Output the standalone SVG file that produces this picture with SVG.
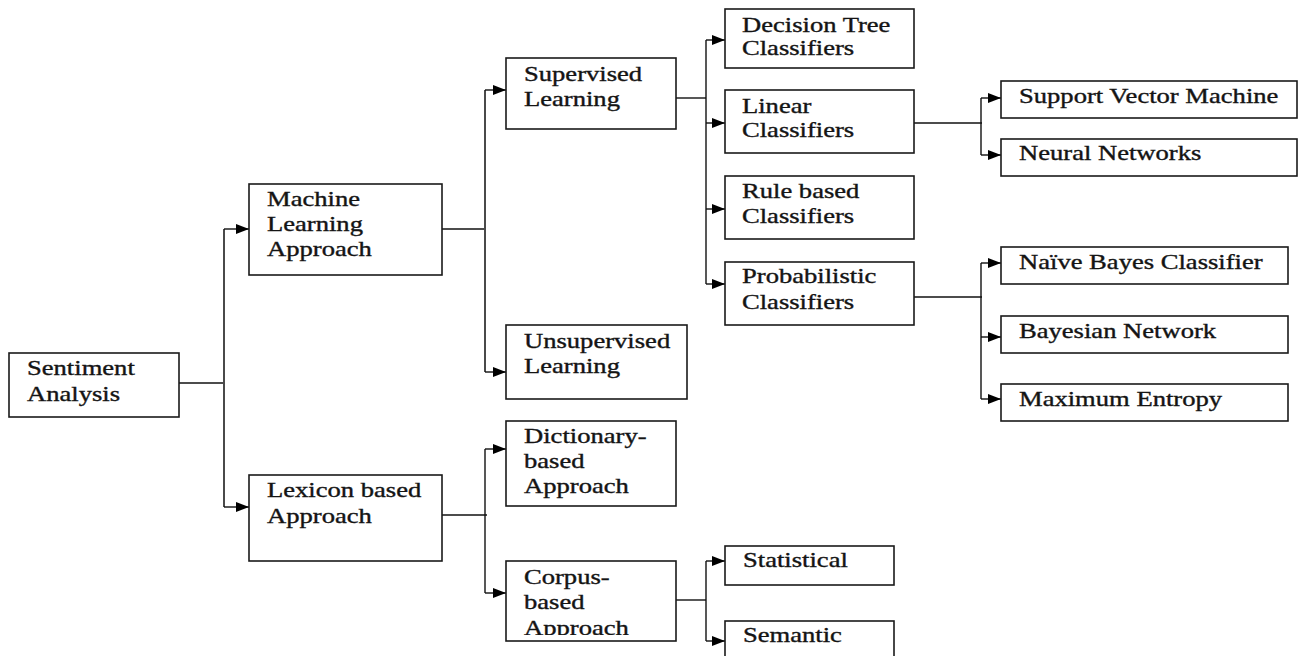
<svg xmlns="http://www.w3.org/2000/svg" width="1301" height="656" viewBox="0 0 1301 656">
<style>
.box{fill:#fff;stroke:#1a1a1a;stroke-width:1.6}
.t{font-family:"Liberation Serif","Times New Roman",serif;font-size:20px;fill:#141414;stroke:#141414;stroke-width:0.35}
.ln{fill:none;stroke:#111;stroke-width:1.4}
.lg{fill:none;stroke:#4a4a4a;stroke-width:2}
.ar{fill:none;stroke:#111;stroke-width:1.4;marker-end:url(#ah)}
</style>
<defs>
<marker id="ah" markerUnits="userSpaceOnUse" markerWidth="14" markerHeight="12" refX="13" refY="6" orient="auto">
<path d="M0,1 L13,6 L0,11 Z" fill="#000"/>
</marker>
<clipPath id="cc"><rect x="506" y="561" width="170" height="74"/></clipPath>
</defs>
<rect width="1301" height="656" fill="#fff"/>
<g id="connectors">
<path class="ln" d="M179,383 H224"/>
<path class="lg" d="M224,229 V507"/>
<path class="ar" d="M224,229 H249"/>
<path class="ar" d="M224,507 H249"/>
<path class="ln" d="M442,229 H486"/>
<path class="lg" d="M485,90 V372"/>
<path class="ar" d="M485,90 H506"/>
<path class="ar" d="M485,372 H506"/>
<path class="ln" d="M442,515 H487"/>
<path class="ln" d="M485,449 V593"/>
<path class="ar" d="M485,449 H506"/>
<path class="ar" d="M485,593 H506"/>
<path class="ln" d="M676,98 H706"/>
<path class="ln" d="M706,40 V284"/>
<path class="ar" d="M706,40 H725"/>
<path class="ar" d="M706,123 H725"/>
<path class="ar" d="M706,209 H725"/>
<path class="ar" d="M706,284 H725"/>
<path class="ln" d="M914,123 H982"/>
<path class="ln" d="M981,98 V155"/>
<path class="ar" d="M981,98 H1001"/>
<path class="ar" d="M981,155 H1001"/>
<path class="ln" d="M914,297 H982"/>
<path class="ln" d="M981,263 V399"/>
<path class="ar" d="M981,263 H1001"/>
<path class="ar" d="M981,337 H1001"/>
<path class="ar" d="M981,399 H1001"/>
<path class="ln" d="M676,600 H706"/>
<path class="ln" d="M706,561 V641"/>
<path class="ar" d="M706,561 H725"/>
<path class="ar" d="M706,641 H725"/>
</g>
<g id="sentiment"><rect class="box" x="9" y="353" width="170" height="64"/>
<text class="t" transform="translate(27,375) scale(1.33,1)"><tspan x="0" y="0">Sentiment</tspan><tspan x="0" y="26">Analysis</tspan></text></g>
<g id="ml"><rect class="box" x="249" y="184" width="193" height="91"/>
<text class="t" transform="translate(267,206) scale(1.33,1)"><tspan x="0" y="0">Machine</tspan><tspan x="0" y="25">Learning</tspan><tspan x="0" y="50">Approach</tspan></text></g>
<g id="lexicon"><rect class="box" x="249" y="475" width="193" height="86"/>
<text class="t" transform="translate(267,497) scale(1.33,1)"><tspan x="0" y="0">Lexicon based</tspan><tspan x="0" y="26">Approach</tspan></text></g>
<g id="supervised"><rect class="box" x="506" y="58" width="170" height="71"/>
<text class="t" transform="translate(524,81) scale(1.33,1)"><tspan x="0" y="0">Supervised</tspan><tspan x="0" y="25">Learning</tspan></text></g>
<g id="unsupervised"><rect class="box" x="506" y="325" width="181" height="74"/>
<text class="t" transform="translate(524,348) scale(1.33,1)"><tspan x="0" y="0">Unsupervised</tspan><tspan x="0" y="25">Learning</tspan></text></g>
<g id="dictionary"><rect class="box" x="506" y="421" width="170" height="85"/>
<text class="t" transform="translate(524,443) scale(1.33,1)"><tspan x="0" y="0">Dictionary-</tspan><tspan x="0" y="25">based</tspan><tspan x="0" y="50">Approach</tspan></text></g>
<g id="corpus"><rect class="box" x="506" y="561" width="170" height="80"/>
<g clip-path="url(#cc)"><text class="t" transform="translate(524,584) scale(1.33,1)"><tspan x="0" y="0">Corpus-</tspan><tspan x="0" y="25">based</tspan><tspan x="0" y="51">Approach</tspan></text></g></g>
<g id="decision"><rect class="box" x="725" y="9" width="189" height="59"/>
<text class="t" transform="translate(742,32) scale(1.33,1)"><tspan x="0" y="0">Decision Tree</tspan><tspan x="0" y="23">Classifiers</tspan></text></g>
<g id="linear"><rect class="box" x="725" y="90" width="189" height="63"/>
<text class="t" transform="translate(742,113) scale(1.33,1)"><tspan x="0" y="0">Linear</tspan><tspan x="0" y="24">Classifiers</tspan></text></g>
<g id="rule"><rect class="box" x="725" y="176" width="189" height="63"/>
<text class="t" transform="translate(742,198) scale(1.33,1)"><tspan x="0" y="0">Rule based</tspan><tspan x="0" y="25">Classifiers</tspan></text></g>
<g id="probabilistic"><rect class="box" x="725" y="262" width="189" height="63"/>
<text class="t" transform="translate(742,283) scale(1.33,1)"><tspan x="0" y="0">Probabilistic</tspan><tspan x="0" y="26">Classifiers</tspan></text></g>
<g id="statistical"><rect class="box" x="725" y="546" width="169" height="39"/>
<text class="t" transform="translate(743,567) scale(1.33,1)">Statistical</text></g>
<g id="semantic"><rect class="box" x="725" y="621" width="169" height="50"/>
<text class="t" transform="translate(743,642) scale(1.33,1)">Semantic</text></g>
<g id="svm"><rect class="box" x="1001" y="81" width="296" height="37"/>
<text class="t" transform="translate(1019,103) scale(1.33,1)">Support Vector Machine</text></g>
<g id="nn"><rect class="box" x="1001" y="139" width="296" height="37"/>
<text class="t" transform="translate(1019,160) scale(1.33,1)">Neural Networks</text></g>
<g id="nb"><rect class="box" x="1001" y="247" width="287" height="37"/>
<text class="t" transform="translate(1019,269) scale(1.33,1)">Naïve Bayes Classifier</text></g>
<g id="bn"><rect class="box" x="1001" y="316" width="287" height="37"/>
<text class="t" transform="translate(1019,338) scale(1.33,1)">Bayesian Network</text></g>
<g id="me"><rect class="box" x="1001" y="384" width="287" height="37"/>
<text class="t" transform="translate(1019,406) scale(1.33,1)">Maximum Entropy</text></g>
</svg>
